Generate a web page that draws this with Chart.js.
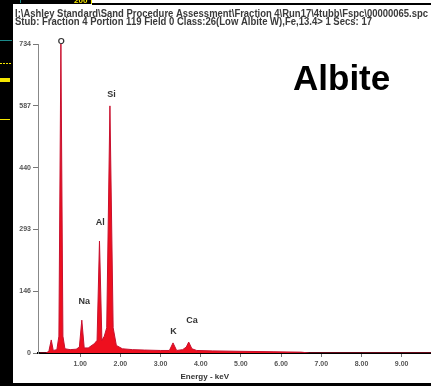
<!DOCTYPE html>
<html>
<head>
<meta charset="utf-8">
<script src="https://cdn.jsdelivr.net/npm/chart.js@4.4.1/dist/chart.umd.min.js"></script>
<style>
  html, body { margin: 0; padding: 0; background: #fff; }
  #wrap { position: relative; width: 431px; height: 386px; }
</style>
</head>
<body>
<div id="wrap"><canvas id="spec" width="431" height="386"></canvas></div>
<script>
// spectrum (energy in keV, counts)
const energy = [0.00, 0.15, 0.22, 0.28, 0.33, 0.42, 0.47, 0.52, 0.57, 0.62, 0.75, 0.90, 0.98, 1.04, 1.10,
  1.20, 1.35, 1.42, 1.48, 1.54, 1.60, 1.66, 1.74, 1.82, 1.90, 2.05, 2.30, 2.60, 3.00, 3.22, 3.31, 3.40,
  3.55, 3.64, 3.70, 3.78, 3.90, 4.30, 5.00, 5.80, 6.50, 6.70, 8.00, 9.80];
const counts = [0, 0, 4, 31, 6, 8, 40, 734, 40, 10, 8, 9, 14, 78, 12,
  12, 22, 30, 266, 30, 40, 60, 587, 60, 18, 10, 8, 7, 6, 6, 24, 6,
  8, 14, 26, 10, 6, 5, 4, 3, 2, 0, 0, 0];

// peak labels
const peakNames = ["O", "Na", "Al", "Si", "K", "Ca"];
const peakX = [0.53, 1.10, 1.50, 1.78, 3.32, 3.78];
const peakY = [740, 123, 311, 615, 52, 76];

// axes
const xTicks = [1, 2, 3, 4, 5, 6, 7, 8, 9];
const xTickLabels = ["1.00", "2.00", "3.00", "4.00", "5.00", "6.00", "7.00", "8.00", "9.00"];
const yTicks = [0, 146.8, 293.6, 440.4, 587.2, 734];
const yTickLabels = ["0", "146", "293", "440", "587", "734"];

const headerLines = [
  "I:\\Ashley Standard\\Sand Procedure Assessment\\Fraction 4\\Run17\\4tubb\\Fspc\\00000065.spc",
  "Stub: Fraction 4 Portion 119 Field 0 Class:26(Low Albite W),Fe,13.4> 1 Secs: 17"
];
const mineral = "Albite";
const xTitle = "Energy - keV";

const decor = {
  id: "decor",
  beforeDraw(chart) {
    const c = chart.ctx;
    c.save();
    c.fillStyle = "#fff";
    c.fillRect(0, 0, chart.width, chart.height);
    c.restore();
  },
  afterDraw(chart) {
    const c = chart.ctx;
    const xs = chart.scales.x, ys = chart.scales.y;
    c.save();
    // frame remnants
    c.fillStyle = "#000";
    c.fillRect(0, 0, 13, 386);
    c.fillRect(0, 0, 92, 4);
    c.fillRect(92, 3, 339, 2);
    c.fillRect(0, 383, 431, 3);
    c.fillStyle = "#1a8a8a";
    c.fillRect(0, 40, 12, 1);
    c.fillRect(20, 0, 1, 3);
    c.fillStyle = "#f5e600";
    c.fillRect(0, 78, 10, 4);
    c.fillRect(0, 119, 10, 1);
    c.fillRect(91, 0, 1, 4);
    for (let i = 0; i < 10; i += 3) c.fillRect(i, 63, 2, 1);
    c.font = "bold 8px 'Liberation Sans'";
    c.textBaseline = "alphabetic";
    c.fillText("200", 74, 3);

    // header
    c.fillStyle = "#3a3a3a";
    c.font = "bold 10px 'Liberation Sans'";
    c.fillText(headerLines[0], 15, 17, 413);
    c.fillText(headerLines[1], 15, 25, 357);

    // mineral name
    c.fillStyle = "#000";
    c.font = "bold 35px 'Liberation Sans'";
    c.fillText(mineral, 293, 90);

    // peak labels
    c.fillStyle = "#333";
    c.font = "bold 9px 'Liberation Sans'";
    c.textAlign = "center";
    c.textBaseline = "middle";
    peakNames.forEach((n, i) => {
      c.fillText(n, xs.getPixelForValue(peakX[i]), ys.getPixelForValue(peakY[i]));
    });

    // x title
    c.font = "bold 8px 'Liberation Sans'";
    c.fillText(xTitle, xs.getPixelForValue(4.1), 377);
    c.restore();
  }
};

new Chart(document.getElementById("spec"), {
  type: "line",
  data: {
    datasets: [{
      data: energy.map((e, i) => ({ x: e, y: counts[i] })),
      borderColor: "#c8102e",
      borderWidth: 1,
      backgroundColor: "#ee0f1e",
      fill: "origin",
      pointRadius: 0,
      tension: 0,
    }],
  },
  options: {
    responsive: false,
    animation: false,
    layout: { padding: { top: 44, right: 0, left: 0, bottom: 0 } },
    plugins: { legend: { display: false }, tooltip: { enabled: false } },
    scales: {
      x: {
        type: "linear",
        min: -0.05,
        max: 9.73,
        afterFit: (s) => { s.height = 33; },
        afterBuildTicks: (s) => { s.ticks = xTicks.map((v) => ({ value: v })); },
        border: { color: "#000", width: 2 },
        grid: { drawOnChartArea: false, tickLength: 4, color: "#777" },
        ticks: {
          autoSkip: false,
          maxRotation: 0,
          padding: 3,
          color: "#555",
          font: { family: "Liberation Sans", size: 7, weight: "bold" },
          callback: (v) => xTickLabels[xTicks.indexOf(v)],
        },
      },
      y: {
        min: 0,
        max: 734,
        afterFit: (s) => { s.width = 38; },
        afterBuildTicks: (s) => { s.ticks = yTicks.map((v) => ({ value: v })); },
        border: { color: "#888", width: 1 },
        grid: { drawOnChartArea: false, tickLength: 5, color: "#777" },
        ticks: {
          autoSkip: false,
          padding: 2,
          color: "#555",
          font: { family: "Liberation Sans", size: 7, weight: "bold" },
          callback: (v) => yTickLabels[yTicks.indexOf(v)],
        },
      },
    },
  },
  plugins: [decor],
});
</script>
</body>
</html>
